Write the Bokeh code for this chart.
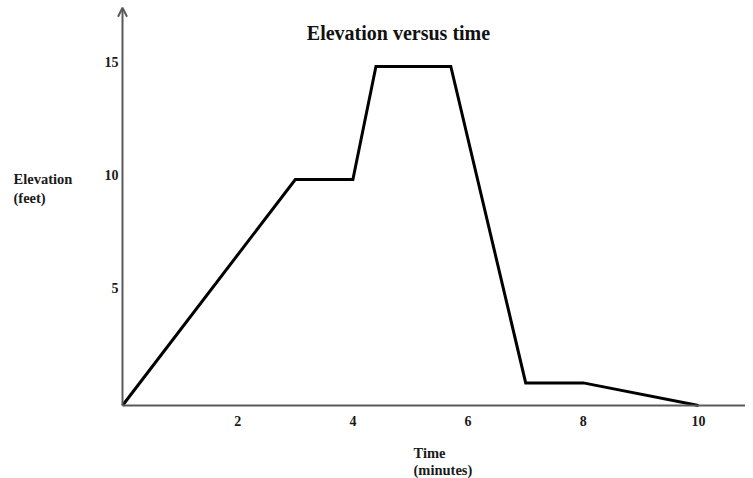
from bokeh.plotting import figure
from bokeh.models import Range1d, Arrow, OpenHead, Label, ColumnDataSource
from bokeh.core.properties import value
from bokeh.embed import file_html
from bokeh.resources import INLINE

# Data
time_min = [0, 3, 4, 4.4, 5.7, 7, 8, 10]
elevation_ft = [0, 10, 10, 15, 15, 1, 1, 0]
x_ticks = [2, 4, 6, 8, 10]
y_ticks = [5, 10, 15]
title_text = "Elevation versus time"
y_label_lines = ["Elevation", "(feet)"]
x_label_lines = ["Time", "(minutes)"]

FONT = "Liberation Serif"
AXIS_COLOR = "#5a5a5a"
W, H = 745, 478

p = figure(width=W, height=H, output_backend="svg", toolbar_location=None,
           x_axis_location=None, y_axis_location=None,
           x_range=Range1d(-2.118, 10.816), y_range=Range1d(-3.230, 17.92),
           min_border=0, outline_line_color=None, background_fill_color="white")
p.grid.visible = False

# axes with arrows
p.add_layout(Arrow(end=OpenHead(size=9, line_color=AXIS_COLOR, line_width=2),
                   x_start=0, y_start=0, x_end=0, y_end=17.6,
                   line_color=AXIS_COLOR, line_width=2))
p.add_layout(Arrow(end=OpenHead(size=9, line_color=AXIS_COLOR, line_width=2),
                   x_start=0, y_start=0, x_end=10.99, y_end=0,
                   line_color=AXIS_COLOR, line_width=2))

# data line
p.line(time_min, elevation_ft, line_color="black", line_width=3, line_join="miter")

# tick labels
xt = ColumnDataSource(dict(x=x_ticks, y=[0] * len(x_ticks), t=[str(v) for v in x_ticks]))
p.text(x="x", y="y", text="t", source=xt, y_offset=15, text_align="center",
       text_baseline="middle", text_font=value(FONT), text_font_style="bold",
       text_font_size="14px", text_color="#1a1a1a")
yt = ColumnDataSource(dict(x=[0] * len(y_ticks), y=y_ticks, t=[str(v) for v in y_ticks]))
p.text(x="x", y="y", text="t", source=yt, x_offset=-4, y_offset=-4, text_align="right",
       text_baseline="middle", text_font=value(FONT), text_font_style="bold",
       text_font_size="14px", text_color="#1a1a1a")

# title
p.add_layout(Label(x=398, y=H - 32, x_units="screen", y_units="screen", text=title_text,
                   text_align="center", text_baseline="middle", text_font=FONT,
                   text_font_style="bold", text_font_size="20px", text_color="#111111"))

# axis labels
for i, t in enumerate(y_label_lines):
    p.add_layout(Label(x=13, y=H - 178 - 19 * i, x_units="screen", y_units="screen", text=t,
                       text_align="left", text_baseline="middle", text_font=FONT,
                       text_font_style="bold", text_font_size="14.5px", text_color="#1a1a1a"))
for i, t in enumerate(x_label_lines):
    p.add_layout(Label(x=413, y=H - 452 - 17 * i, x_units="screen", y_units="screen", text=t,
                       text_align="left", text_baseline="middle",
                       text_font=FONT, text_font_style="bold", text_font_size="14.5px",
                       text_color="#1a1a1a"))

open("out.html", "w").write(file_html(p, INLINE))
